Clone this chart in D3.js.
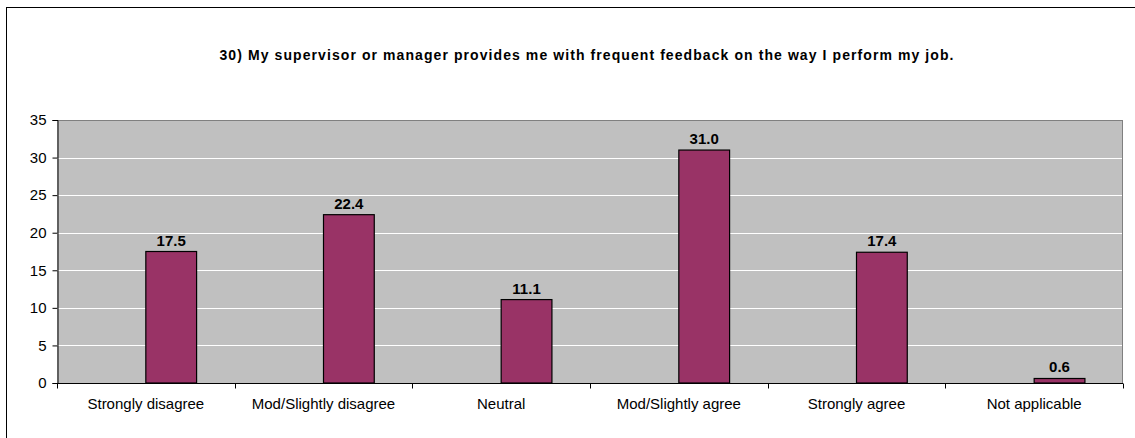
<!DOCTYPE html>
<html><head><meta charset="utf-8">
<script src="https://cdn.jsdelivr.net/npm/d3@7"></script>
<style>
html,body{margin:0;padding:0;background:#fff;}
svg{display:block;font-family:"Liberation Sans",Arial,sans-serif;}
</style></head>
<body>
<svg id="chart" width="1135" height="438"></svg>
<script>
const title = "30) My supervisor or manager provides me with frequent feedback on the way I perform my job.";
const categories = ["Strongly disagree","Mod/Slightly disagree","Neutral","Mod/Slightly agree","Strongly agree","Not applicable"];
const values = [17.5, 22.4, 11.1, 31.0, 17.4, 0.6];
const yTicks = [0,5,10,15,20,25,30,35];

const svg = d3.select("#chart");
const m = {left:57, top:120, right:1123, bottom:383};

// outer frame
svg.append("rect").attr("x",6.5).attr("y",7.5).attr("width",1140).attr("height",440)
  .attr("fill","none").attr("stroke","#000").attr("stroke-width",1);

const t = svg.append("text").attr("x",587).attr("y",60).attr("text-anchor","middle")
  .attr("font-size",14).attr("font-weight","bold")
  .attr("fill","#000").text(title);
const tw = t.node().getComputedTextLength();
t.attr("letter-spacing", Math.max(0,(735 - tw)/(title.length)));

const x = d3.scaleBand().domain(categories).range([m.left,m.right]);
const y = d3.scaleLinear().domain([0,35]).range([m.bottom,m.top]);

svg.append("rect").attr("x",m.left).attr("y",m.top).attr("width",m.right-m.left).attr("height",m.bottom-m.top)
  .attr("fill","#c0c0c0");

// gridlines
svg.append("g").selectAll("line").data(yTicks.filter(d=>d>0 && d<35)).join("line")
  .attr("x1",m.left).attr("x2",m.right)
  .attr("y1",d=>Math.round(y(d))+0.5).attr("y2",d=>Math.round(y(d))+0.5)
  .attr("stroke","#fff").attr("stroke-width",1);
// top/right border of plot
svg.append("line").attr("x1",m.left).attr("x2",m.right).attr("y1",m.top+0.5).attr("y2",m.top+0.5)
  .attr("stroke","#808080");
svg.append("line").attr("x1",m.right-0.5).attr("x2",m.right-0.5).attr("y1",m.top).attr("y2",m.bottom)
  .attr("stroke","#808080");

// bars: two-slot cluster (empty first slot), bar in second slot
const slot = x.bandwidth()/3.5;
svg.append("g").selectAll("rect").data(values).join("rect")
  .attr("x",(d,i)=>x(categories[i])+x.bandwidth()/2)
  .attr("y",d=>y(d))
  .attr("width",slot)
  .attr("height",d=>y(0)-y(d))
  .attr("fill","#993366").attr("stroke","#000").attr("stroke-width",1.2);

svg.append("g").selectAll("text").data(values).join("text")
  .attr("x",(d,i)=>x(categories[i])+x.bandwidth()/2+slot/2)
  .attr("y",d=>y(d)-6)
  .attr("text-anchor","middle").attr("font-size",15).attr("font-weight","bold")
  .text(d=>d.toFixed(1));

// y axis
const yAxis = d3.axisLeft(y).tickValues(yTicks).tickSize(5).tickPadding(6);
const gy = svg.append("g").attr("transform",`translate(${m.left+0.5},0)`).call(yAxis);
gy.select(".domain").attr("stroke","#000");
gy.selectAll(".tick line").attr("stroke","#000");
gy.selectAll("text").attr("font-size",15).attr("font-family","Liberation Sans, Arial, sans-serif").attr("fill","#000");

// x axis
const gx = svg.append("g").attr("transform",`translate(0,${m.bottom+0.5})`);
gx.append("line").attr("x1",m.left).attr("x2",m.right).attr("stroke","#000");
const boundaries = categories.map(c=>x(c)).concat([m.right]);
gx.selectAll("line.tk").data(boundaries).join("line").attr("class","tk")
  .attr("x1",d=>Math.round(d)+0.5).attr("x2",d=>Math.round(d)+0.5).attr("y1",0).attr("y2",5).attr("stroke","#000");
gx.selectAll("text").data(categories).join("text")
  .attr("x",d=>x(d)+x.bandwidth()/2).attr("y",25)
  .attr("text-anchor","middle").attr("font-size",15).attr("fill","#000").text(d=>d);
</script>
</body></html>
